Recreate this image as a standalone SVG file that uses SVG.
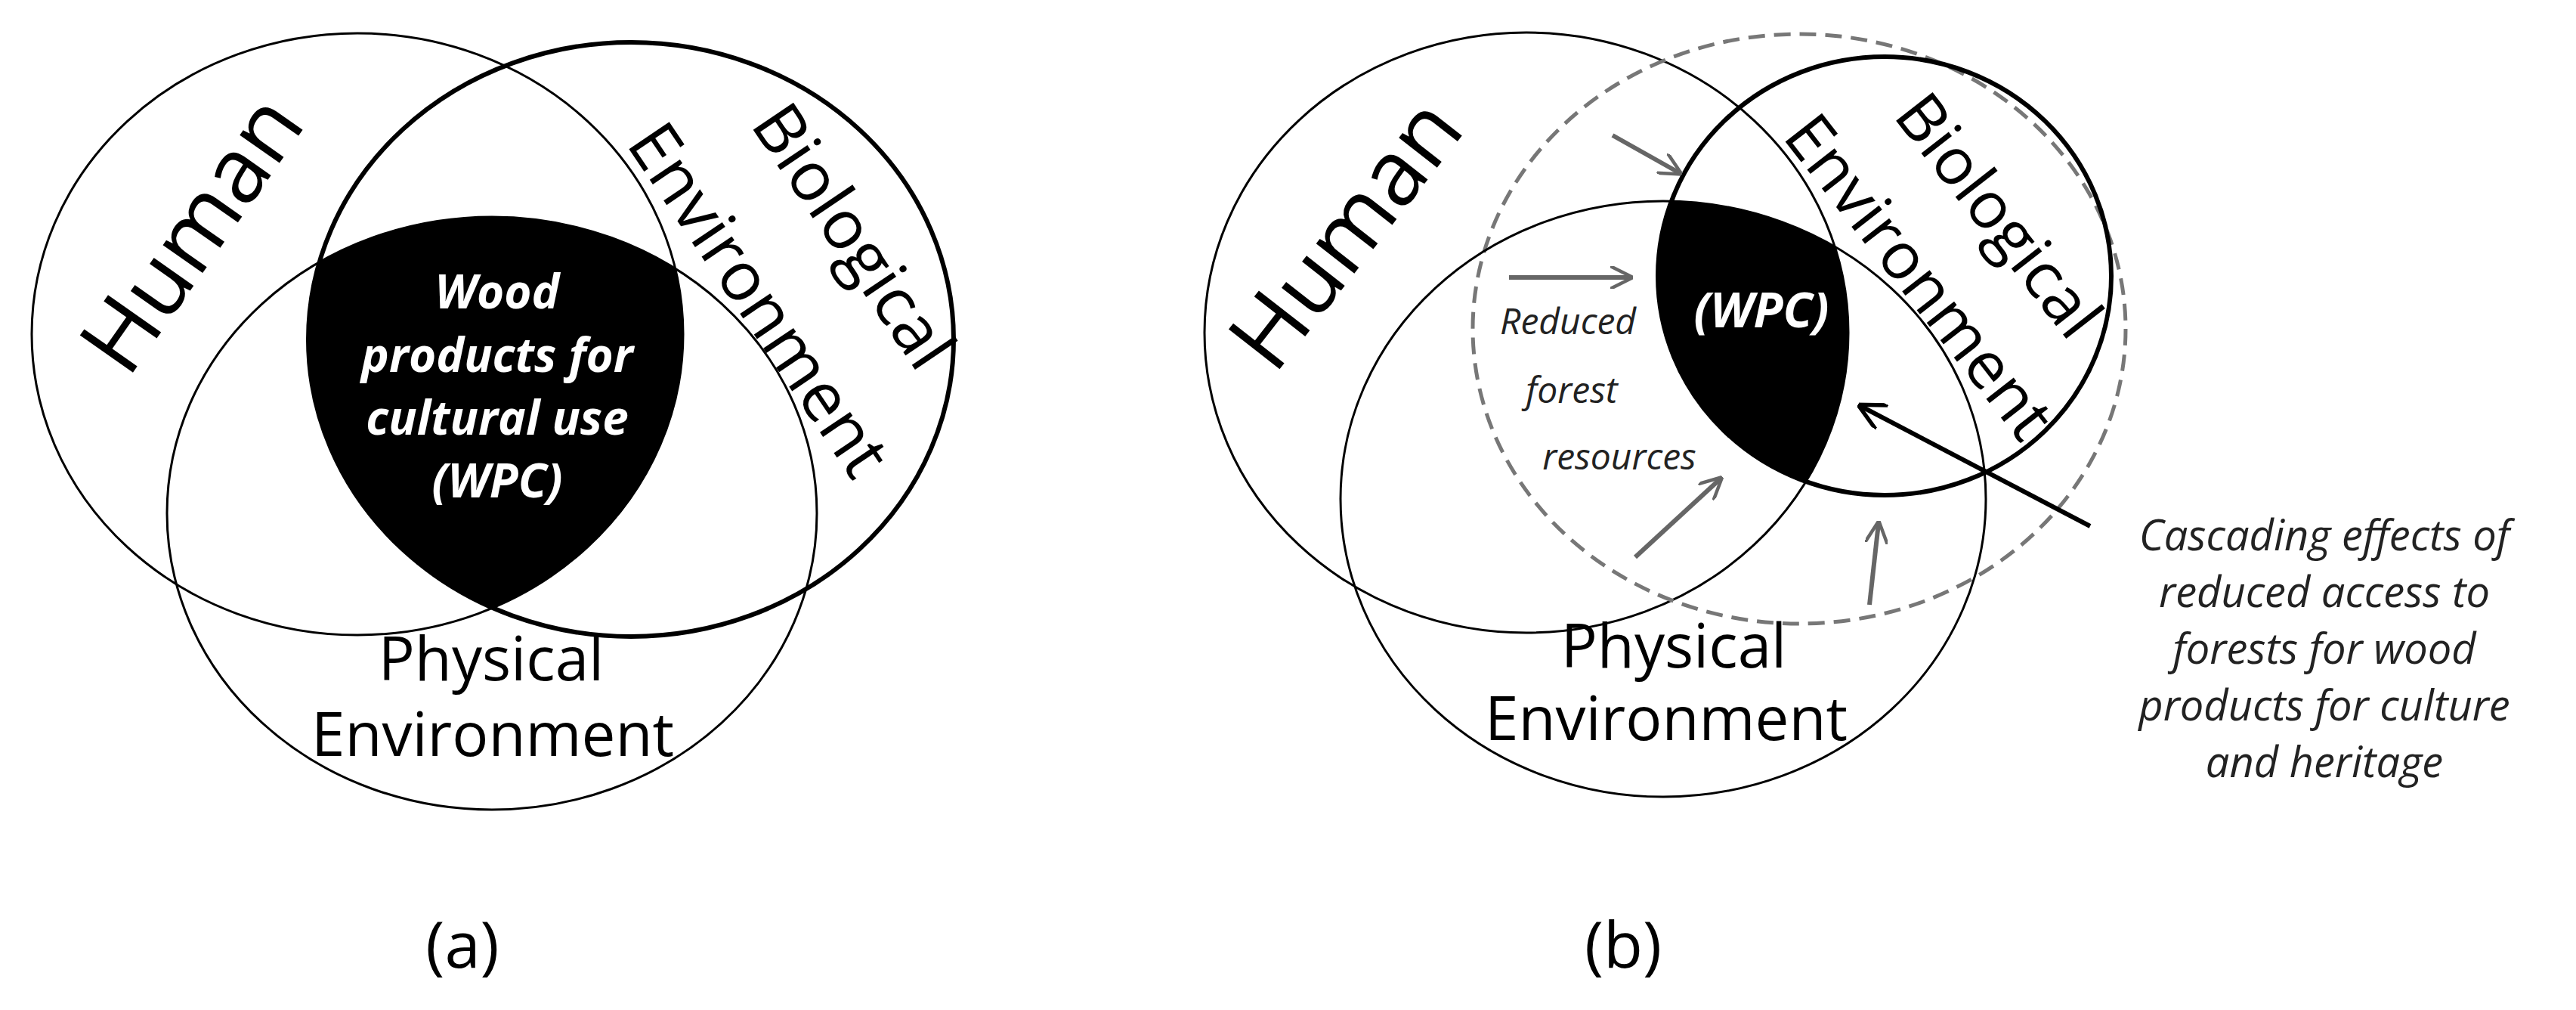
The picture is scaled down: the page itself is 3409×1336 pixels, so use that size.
<svg xmlns="http://www.w3.org/2000/svg" width="3409" height="1336" viewBox="0 0 3409 1336">
<style>
.c{fill:none;stroke:#000;stroke-width:3}
.t{stroke-width:6}
.d{fill:none;stroke:#777;stroke-width:5;stroke-dasharray:22 12}
.lbl{font-family:"Open Sans","Liberation Sans",sans-serif;fill:#000;text-anchor:middle}
.w{font-family:"Open Sans","Liberation Sans",sans-serif;fill:#fff;font-weight:bold;font-style:italic;text-anchor:middle}
.it{font-family:"Open Sans","Liberation Sans",sans-serif;font-style:italic;text-anchor:middle;fill:#222}
.g{stroke:#666;stroke-width:6;fill:none}
</style>
<defs>
<marker id="ga" viewBox="0 0 10 10" refX="9" refY="5" markerWidth="5" markerHeight="5" orient="auto" markerUnits="strokeWidth"><path d="M0,0 L10,5 L0,10" fill="none" stroke="#666" stroke-width="1.5"/></marker>
<marker id="ba" viewBox="0 0 10 10" refX="9" refY="5" markerWidth="6" markerHeight="6" orient="auto" markerUnits="strokeWidth"><path d="M0,0 L10,5 L0,10" fill="none" stroke="#000" stroke-width="1.5"/></marker>
<clipPath id="aH"><ellipse cx="473" cy="442" rx="431" ry="398"/></clipPath>
<clipPath id="aB"><ellipse cx="835" cy="449" rx="427" ry="393"/></clipPath>
<clipPath id="bH"><ellipse cx="2020" cy="440" rx="426" ry="397"/></clipPath>
<clipPath id="bB"><ellipse cx="2494" cy="365" rx="300" ry="290"/></clipPath>
</defs>
<rect width="3409" height="1336" fill="#fff"/>
<g id="panel-a">
<g clip-path="url(#aH)"><g clip-path="url(#aB)"><ellipse cx="651" cy="679" rx="430" ry="392" fill="#000"/></g></g>
<g id="a-human"><ellipse class="c" cx="473" cy="442" rx="431" ry="398"/><text class="lbl" font-size="120" transform="translate(255,310) rotate(-55)" dy="40">Human</text></g>
<g id="a-bio"><ellipse class="c t" cx="835" cy="449" rx="427" ry="393"/>
<text class="lbl" font-size="90" transform="translate(1130,312) rotate(56)" dy="32">Biological</text>
<text class="lbl" font-size="90" transform="translate(1005,396) rotate(56)" dy="32">Environment</text></g>
<g id="a-phys"><ellipse class="c" cx="651" cy="679" rx="430" ry="392"/>
<text class="lbl" font-size="80" x="650" y="900">Physical</text>
<text class="lbl" font-size="80" x="652" y="1000">Environment</text></g>
<g id="a-wpc"><text class="w" font-size="62" x="658" y="408">Wood</text>
<text class="w" font-size="62" x="658" y="492">products for</text>
<text class="w" font-size="62" x="658" y="575">cultural use</text>
<text class="w" font-size="62" x="658" y="658">(WPC)</text></g>
<text class="lbl" font-size="85" x="612" y="1280">(a)</text>
</g>
<g id="panel-b">
<g clip-path="url(#bH)"><g clip-path="url(#bB)"><ellipse cx="2201" cy="660" rx="427" ry="394" fill="#000"/></g></g>
<g id="b-human"><ellipse class="c" cx="2020" cy="440" rx="426" ry="397"/><text class="lbl" font-size="120" transform="translate(1782,310) rotate(-52)" dy="40">Human</text></g>
<g id="b-forest"><ellipse class="d" cx="2381" cy="435" rx="432" ry="390"/></g>
<g id="b-bio"><ellipse class="c t" cx="2494" cy="365" rx="300" ry="290"/>
<text class="lbl" font-size="86" transform="translate(2645,285) rotate(52)" dy="30">Biological</text>
<text class="lbl" font-size="86" transform="translate(2540,366) rotate(52)" dy="30">Environment</text></g>
<g id="b-phys"><ellipse class="c" cx="2201" cy="660" rx="427" ry="394"/>
<text class="lbl" font-size="80" x="2215" y="883">Physical</text>
<text class="lbl" font-size="80" x="2205" y="979">Environment</text></g>
<text class="w" font-size="64" x="2331" y="433">(WPC)</text>
<g id="b-reduced"><text class="it" font-size="48" x="2075" y="442">Reduced</text>
<text class="it" font-size="48" x="2080" y="533">forest</text>
<text class="it" font-size="48" x="2143" y="621">resources</text></g>
<g id="b-cascade"><text class="it" font-size="56" x="3076" y="728" fill="#000">Cascading effects of</text>
<text class="it" font-size="56" x="3076" y="803">reduced access to</text>
<text class="it" font-size="56" x="3076" y="878">forests for wood</text>
<text class="it" font-size="56" x="3076" y="953">products for culture</text>
<text class="it" font-size="56" x="3076" y="1028">and heritage</text></g>
<text class="lbl" font-size="85" x="2148" y="1280">(b)</text>
</g>
<g id="connectors">
<line class="g" x1="2134" y1="179" x2="2223" y2="229" marker-end="url(#ga)"/>
<line class="g" x1="1997" y1="367" x2="2158" y2="367" marker-end="url(#ga)"/>
<line class="g" x1="2164" y1="737" x2="2277" y2="633" marker-end="url(#ga)"/>
<line class="g" x1="2474" y1="800" x2="2486" y2="692" marker-end="url(#ga)"/>
<line x1="2766" y1="696" x2="2462" y2="537" stroke="#000" stroke-width="6" marker-end="url(#ba)"/>
</g>
</svg>
